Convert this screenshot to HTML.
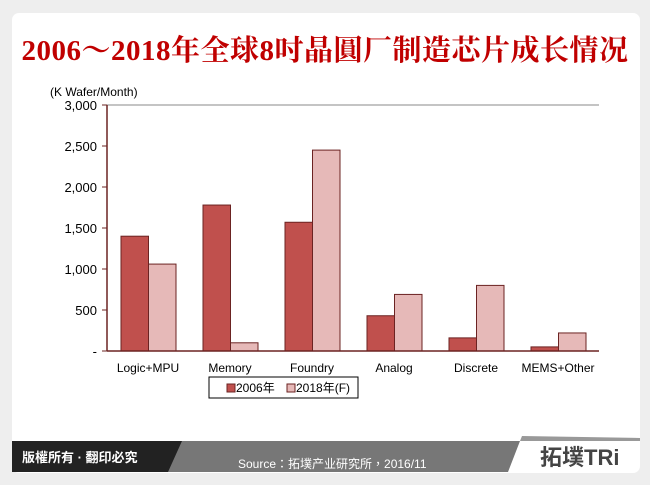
<!DOCTYPE html>
<html><head><meta charset="utf-8"><style>
body{margin:0;background:#eeeeee;width:650px;height:485px;overflow:hidden;font-family:"Liberation Sans","Noto Sans CJK TC",sans-serif}
#card{position:absolute;left:12px;top:13px;width:628px;height:460px;background:#fff;border-radius:7px;overflow:hidden}
#title{position:absolute;left:0;top:28px;width:650px;text-align:center;font-family:"Liberation Serif","Noto Serif CJK SC",serif;font-weight:bold;font-size:29px;color:#c00000;white-space:nowrap;letter-spacing:0.5px}
</style></head><body>
<div id="card"></div>
<div id="title">2006～2018年全球8吋晶圓厂制造芯片成长情况</div>
<svg width="650" height="485" style="position:absolute;left:0;top:0" id="chart">
<text x="50" y="96" font-size="12" fill="#000">(K Wafer/Month)</text>
<g id="g"></g>
<g>
<rect x="209" y="377" width="149" height="21" fill="#fff" stroke="#000" stroke-width="1"/>
<rect x="227" y="384" width="8" height="8" fill="#c0504d" stroke="#6b2322"/>
<text x="236" y="392" font-size="12">2006年</text>
<rect x="287" y="384" width="8" height="8" fill="#e6b9b8" stroke="#6b2322"/>
<text x="296" y="392" font-size="12">2018年(F)</text>
</g>
<g>
<polygon points="12,441 520,441 508,472 12,472" fill="#777"/>
<polygon points="12,441 182,441 168,472 12,472" fill="#222"/>
<polygon points="520,441 640,441 640,438 522,436" fill="#999"/>
<text x="22" y="462" font-size="13" font-weight="bold" fill="#fff">版權所有 · 翻印必究</text>
<text x="238" y="468" font-size="12" fill="#fff">Source：拓墣产业研究所，2016/11</text>
<text x="540" y="465" font-size="22" font-weight="bold" fill="#444">拓墣TRi</text>
</g>
</svg>
<script>
const categories=["Logic+MPU","Memory","Foundry","Analog","Discrete","MEMS+Other"];
const s2006=[1400,1780,1570,430,160,50];
const s2018=[1060,100,2450,690,800,220];
const ticks=[0,500,1000,1500,2000,2500,3000];
const tickLabels=["-","500","1,000","1,500","2,000","2,500","3,000"];
const NS="http://www.w3.org/2000/svg";
const g=document.getElementById('g');
const x0=107,cw=82,yb=351,yt=105,max=3000;
const y=v=>yb-(v/max)*(yb-yt);
function el(t,a){const e=document.createElementNS(NS,t);for(const k in a)e.setAttribute(k,a[k]);g.appendChild(e);return e;}
el('line',{x1:x0,y1:yt,x2:x0+cw*6,y2:yt,stroke:'#888','stroke-width':1});
ticks.forEach((t,i)=>{
 const l=el('line',{x1:x0-5,y1:y(t),x2:x0,y2:y(t),stroke:'#6b2322'});
 
 
 const tx=el('text',{x:x0-10,y:y(t)+5,'font-size':13,'text-anchor':'end',fill:'#000'});
 tx.textContent=tickLabels[i];
 
 
});
categories.forEach((c,i)=>{
 const bx=x0+i*cw+14;
 const b1=el('rect',{x:bx,y:y(s2006[i]),width:27.5,height:yb-y(s2006[i]),fill:'#c0504d',stroke:'#6b2322','stroke-width':1});
 
 
 const b2=el('rect',{x:bx+27.5,y:y(s2018[i]),width:27.5,height:yb-y(s2018[i]),fill:'#e6b9b8',stroke:'#6b2322','stroke-width':1});
 
 
 const tx=el('text',{x:x0+i*cw+cw/2,y:372,'font-size':12,'text-anchor':'middle'});
 tx.textContent=c;
 
 
});
el('line',{x1:x0,y1:yt,x2:x0,y2:yb,stroke:'#6b2322','stroke-width':1.5});
el('line',{x1:x0,y1:yb,x2:x0+cw*6,y2:yb,stroke:'#6b2322','stroke-width':1.5});
</script>
</body></html>
